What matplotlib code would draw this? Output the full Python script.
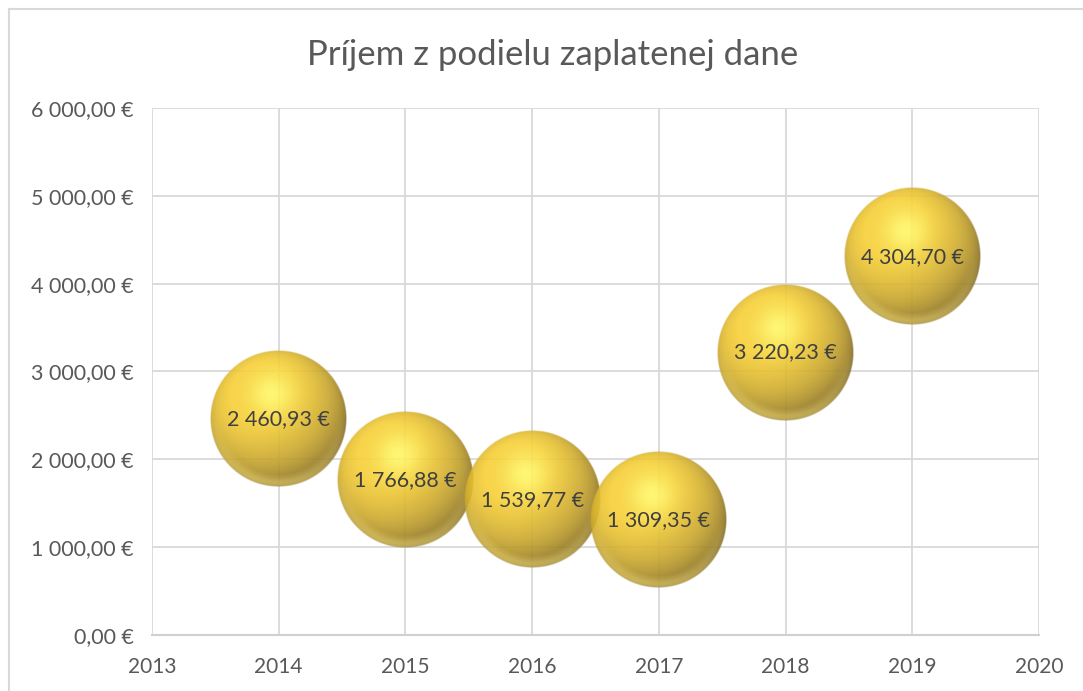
import numpy as np
import matplotlib
matplotlib.use("Agg")
import matplotlib.pyplot as plt
from matplotlib.lines import Line2D

plt.rcParams['font.family'] = ['Lato', 'DejaVu Sans']

# ---- data ----
title = "Príjem z podielu zaplatenej dane"
years = [2014, 2015, 2016, 2017, 2018, 2019]
values = [2460.93, 1766.88, 1539.77, 1309.35, 3220.23, 4304.70]
bubble_sizes = [1, 1, 1, 1, 1, 1]
x_ticks = [2013, 2014, 2015, 2016, 2017, 2018, 2019, 2020]
y_ticks = [0, 1000, 2000, 3000, 4000, 5000, 6000]


def fmt_eur(v):
    s = f"{v:,.2f}".replace(",", " ").replace(".", ",")
    return s + " €"


W, H = 1083, 691
fig = plt.figure(figsize=(W / 100, H / 100), dpi=100)
fig.patch.set_facecolor("white")

# chart border (only top and left visible)
fig.add_artist(Line2D([9 / W, 9 / W], [0, 1 - 9 / H], transform=fig.transFigure,
                      color="#D9D9D9", lw=1.5))
fig.add_artist(Line2D([9 / W, 1], [1 - 9 / H, 1 - 9 / H], transform=fig.transFigure,
                      color="#D9D9D9", lw=1.5))

left, right, top, bottom = 152, 1039, 108, 635
ax = fig.add_axes([left / W, (H - bottom) / H, (right - left) / W, (bottom - top) / H])
ax.set_xlim(x_ticks[0], x_ticks[-1])
ax.set_ylim(y_ticks[0], y_ticks[-1])
ax.set_xticks(x_ticks)
ax.set_yticks(y_ticks)
ax.set_xticklabels([str(t) for t in x_ticks])
ax.set_yticklabels([fmt_eur(t) for t in y_ticks])
ax.grid(True, color="#D9D9D9", lw=1.3, zorder=0)
ax.set_axisbelow(True)
for s in ["top", "right", "left"]:
    ax.spines[s].set_visible(False)
ax.spines["bottom"].set_color("#D0D0D0")
ax.spines["bottom"].set_linewidth(1.5)
ax.tick_params(axis="both", length=0, labelcolor="#595959")
ax.tick_params(axis="y", pad=13, labelsize=15.5)
ax.tick_params(axis="x", pad=16, labelsize=15)

fig.text(553 / W, 1 - 55 / H, title, ha="center", va="center", fontsize=25,
         color="#595959")

# ---- sphere texture ----
N = 400
u = np.linspace(-1, 1, N)
U, V = np.meshgrid(u, -u)  # V positive up (row 0 = top)
R2 = U ** 2 + V ** 2
R = np.sqrt(R2)
Z = np.sqrt(np.clip(1 - R2, 0, 1))
L = np.array([-0.3, 0.45, 0.84])
L = L / np.linalg.norm(L)
d = U * L[0] + V * L[1] + Z * L[2]
w = 0.25
d = np.clip((d + w) / (1 + w), 0, 1)

dark = np.array([115, 92, 30]) / 255
base = np.array([247, 206, 52]) / 255
hi = np.array([255, 250, 105]) / 255
rimc = np.array([250, 226, 105]) / 255

t = d[..., None] ** 0.85
col = dark + (base - dark) * np.clip(t * 1.08, 0, 1)
spec = np.exp(-((U + 0.1) ** 2 + (V - 0.36) ** 2) / 0.1)[..., None]
col = col * (1 - 0.9 * spec) + hi * 0.9 * spec
rim = (np.clip((R - 0.82) / 0.16, 0, 1) * np.clip(-V / 0.9, 0, 1))[..., None]
rim = rim * np.clip((1 - R)[..., None] * 12, 0, 1) ** 0.3
col = col * (1 - 0.7 * rim) + rimc * 0.7 * rim
col = np.clip(col, 0, 1)

radius_px = 68.5
alpha = 0.9 * np.clip((1 - R) * radius_px, 0, 1)
tex = np.dstack([col, alpha])

fig.canvas.draw()
inv = ax.transData.inverted()
for x, y, sz in zip(years, values, bubble_sizes):
    cx, cy = ax.transData.transform((x, y))
    r = radius_px * np.sqrt(sz)
    (x0, y0) = inv.transform((cx - r, cy - r))
    (x1, y1) = inv.transform((cx + r, cy + r))
    ax.imshow(tex, extent=[x0, x1, y0, y1], origin="upper", interpolation="bilinear",
              zorder=3, aspect="auto", clip_on=False)
    ax.text(x, y, fmt_eur(y), ha="center", va="center", fontsize=15.5,
            color="#404040", zorder=5)

ax.set_xlim(x_ticks[0], x_ticks[-1])
ax.set_ylim(y_ticks[0], y_ticks[-1])
ax.set_aspect("auto")

fig.savefig("out.png", dpi=100)
